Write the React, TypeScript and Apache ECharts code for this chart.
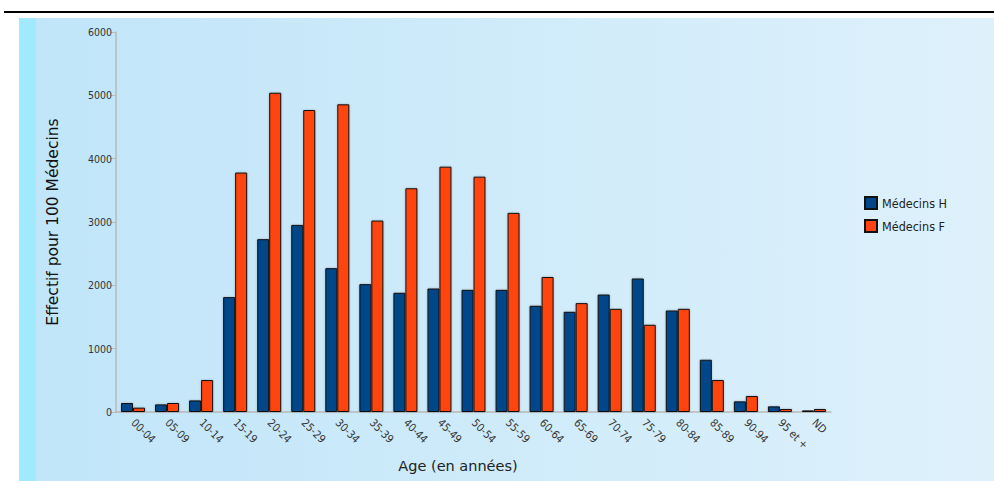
import React, { useEffect, useRef } from "react";
import * as echarts from "echarts";

const categories = [
  "00-04", "05-09", "10-14", "15-19", "20-24", "25-29", "30-34", "35-39",
  "40-44", "45-49", "50-54", "55-59", "60-64", "65-69", "70-74", "75-79",
  "80-84", "85-89", "90-94", "95 et +", "ND",
];
const medecinsH = [
  142, 120, 183, 1814, 2729, 2954, 2271, 2019, 1882, 1950, 1929, 1929,
  1677, 1582, 1855, 2108, 1603, 825, 168, 89, 25,
];
const medecinsF = [
  68, 142, 505, 3780, 5041, 4768, 4858, 3022, 3533, 3874, 3716, 3144,
  2132, 1719, 1629, 1377, 1629, 505, 252, 47, 47,
];
const yTicks = [0, 1000, 2000, 3000, 4000, 5000, 6000];

export default function App() {
  const ref = useRef<HTMLDivElement>(null);
  useEffect(() => {
    document.body.style.margin = "0";
    const chart = echarts.init(ref.current!, null, { renderer: "svg" });
    const barStyle = (color: string) => ({
      color,
      borderColor: "#111",
      borderWidth: 1,
      shadowColor: "rgba(0,0,0,0.25)",
      shadowBlur: 2,
    });
    chart.setOption({
      animation: false,
      textStyle: { fontFamily: "DejaVu Sans" },
      graphic: [
        { type: "rect", z: -10, shape: { x: 4, y: 11, width: 990, height: 2 }, style: { fill: "#000" } },
        {
          type: "rect", z: -10,
          shape: { x: 19, y: 18, width: 975, height: 463 },
          style: {
            fill: new echarts.graphic.LinearGradient(0, 0, 1, 0, [
              { offset: 0, color: "#c0e5f9" },
              { offset: 1, color: "#def1fb" },
            ]),
          },
        },
        { type: "rect", z: -9, shape: { x: 19, y: 18, width: 17, height: 463 }, style: { fill: "#a1e9fd" } },
      ],
      legend: {
        orient: "vertical",
        left: 859,
        top: 191,
        itemWidth: 12,
        itemHeight: 12,
        itemGap: 9,
        icon: "rect",
        textStyle: { fontSize: 12.5, color: "#222", fontFamily: "DejaVu Sans Condensed" },
        data: ["Médecins H", "Médecins F"],
      },
      grid: { left: 116, top: 32, width: 715, height: 380, containLabel: false },
      xAxis: {
        type: "category",
        data: categories,
        name: "Age (en années)",
        nameLocation: "middle",
        nameGap: 44,
        nameTextStyle: { fontSize: 14.5, color: "#222", padding: [0, 31, 0, 0] },
        axisLine: { lineStyle: { color: "#b8b8b8", width: 1.5 } },
        axisTick: { alignWithLabel: true, length: 5, lineStyle: { color: "#b8b8b8" } },
        axisLabel: {
          rotate: -45,
          fontSize: 11,
          color: "#333",
          margin: 9,
          fontFamily: "DejaVu Sans Condensed",
        },
      },
      yAxis: {
        type: "value",
        min: 0,
        max: 6000,
        interval: 1000,
        name: "Effectif pour 100 Médecins",
        nameLocation: "middle",
        nameGap: 55,
        nameTextStyle: { fontSize: 15.5, color: "#111" },
        axisLine: { show: true, lineStyle: { color: "#b8b8b8", width: 1.5 } },
        axisTick: { show: true, length: 5, lineStyle: { color: "#b8b8b8" } },
        splitLine: { show: false },
        axisLabel: {
          fontSize: 10.5,
          color: "#333",
          margin: 4,
          fontFamily: "DejaVu Sans Condensed",
          formatter: (v: number) => String(v),
          customValues: yTicks,
        },
      },
      series: [
        {
          name: "Médecins H",
          type: "bar",
          data: medecinsH,
          barWidth: 12,
          barGap: "0%",
          itemStyle: barStyle("#01468a"),
        },
        {
          name: "Médecins F",
          type: "bar",
          data: medecinsF,
          barWidth: 12,
          barGap: "0%",
          itemStyle: barStyle("#ff4411"),
        },
      ],
    });
    return () => chart.dispose();
  }, []);
  return <div ref={ref} style={{ width: 994, height: 481 }} />;
}
